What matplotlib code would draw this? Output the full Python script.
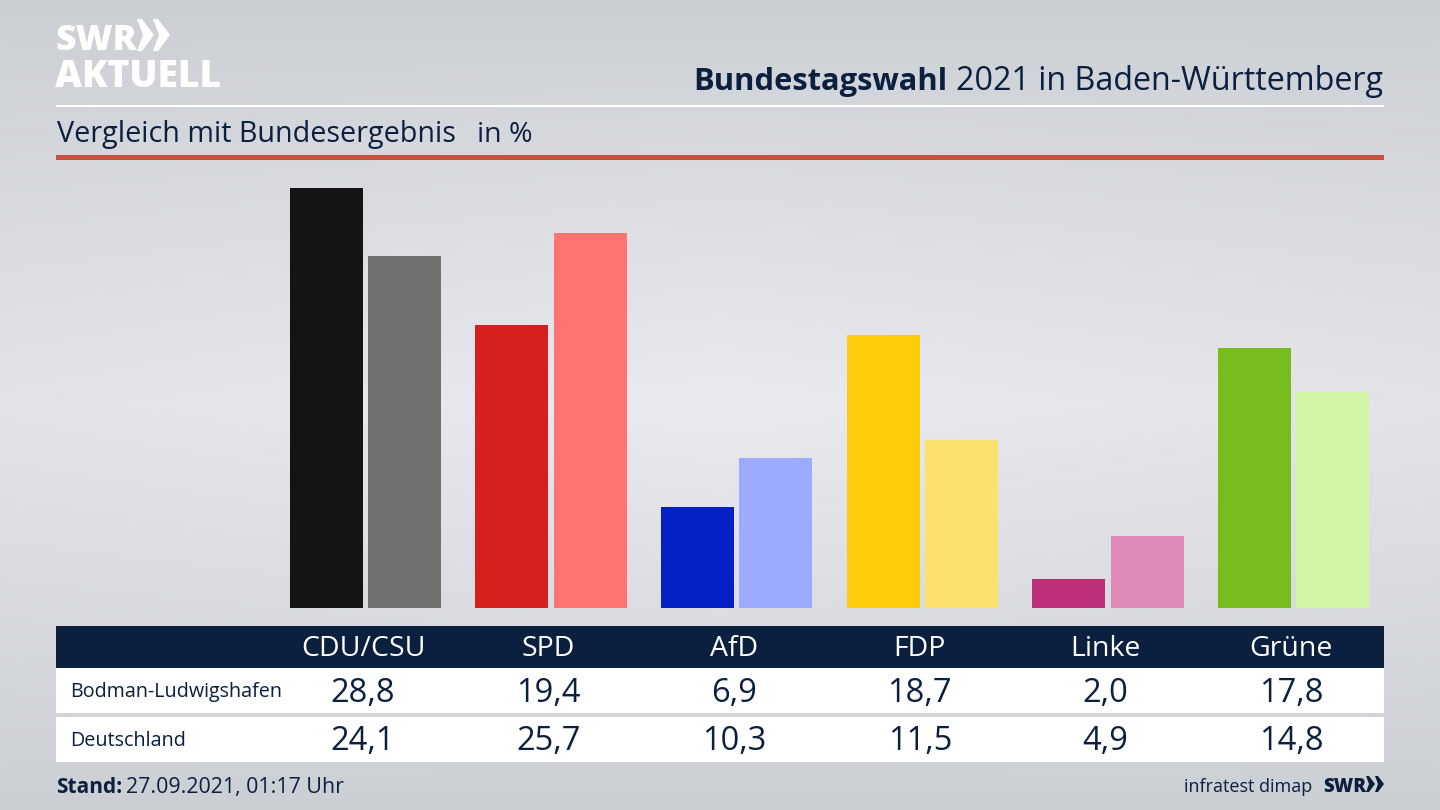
import numpy as np
import matplotlib.pyplot as plt
from matplotlib.patches import Polygon, Rectangle

plt.rcParams['font.family'] = ['Open Sans', 'DejaVu Sans']

# Daten
parteien = ['CDU/CSU', 'SPD', 'AfD', 'FDP', 'Linke', 'Grüne']
bodman = [28.8, 19.4, 6.9, 18.7, 2.0, 17.8]
deutschland = [24.1, 25.7, 10.3, 11.5, 4.9, 14.8]
farben_bodman = ['#141414', '#d71f1f', '#0220c4', '#ffcc0a', '#bd3078', '#76bc1c']
farben_deutschland = ['#72716f', '#ff7370', '#9dabff', '#fee06f', '#de88b6', '#d3f5a6']
zeilen = ['Bodman-Ludwigshafen', 'Deutschland']

NAVY = '#0b1f3f'
W, H = 1440, 810

fig = plt.figure(figsize=(14.4, 8.1), dpi=100)

# Hintergrund und Beschriftung in Pixelkoordinaten
bg = fig.add_axes([0, 0, 1, 1])
bg.set_xlim(0, W)
bg.set_ylim(H, 0)
bg.axis('off')

yy = np.linspace(0, 1, 200)[:, None]
xx = np.linspace(0, 1, 300)[None, :]
verlauf = 1 - np.abs(yy - 0.5) * 2
seiten = 1 - np.abs(xx - 0.5) * 2
hell = verlauf ** 0.9 * (0.75 + 0.25 * seiten)
rgb = np.zeros((200, 300, 3))
for k, (a, b) in enumerate([(203, 234), (206, 235), (211, 240)]):
    rgb[:, :, k] = (a + (b - a) * hell) / 255
bg.imshow(rgb, extent=(0, W, H, 0), aspect='auto', zorder=0)

# Linien oben
bg.add_patch(Rectangle((56, 104.5), 1328, 2.8, color='white', lw=0, zorder=1))
bg.add_patch(Rectangle((56, 155), 1328, 5.2, color='#c9503e', lw=0, zorder=1))

# Titel
t2 = bg.text(1383, 90, '2021 in Baden-Württemberg', fontsize=23.25, color=NAVY, ha='right', va='baseline')
fig.canvas.draw()
ext = t2.get_window_extent()
bg.text(ext.x0 - 9, 90, 'Bundestagswahl', fontsize=22.2, fontweight='bold', color=NAVY, ha='right', va='baseline')
bg.text(57, 142, 'Vergleich mit Bundesergebnis', fontsize=20.7, color=NAVY, va='baseline')
bg.text(477, 142, 'in %', fontsize=20.5, color=NAVY, va='baseline')

# Logo
bg.text(55, 50, 'SWR', fontsize=25.7, fontweight=800, color='white', va='baseline')
bg.text(55, 87, 'AKTUELL', fontsize=26.7, fontweight=800, color='white', va='baseline')
for x0 in (137, 153):
    bg.add_patch(Polygon([(x0, 19), (x0 + 5, 19), (x0 + 17, 35), (x0 + 5, 51), (x0, 51), (x0 + 6, 35)],
                         color='white', lw=0, zorder=2))

# Tabelle
bg.add_patch(Rectangle((56, 625.5), 1328, 42.5, color=NAVY, lw=0, zorder=1))
bg.add_patch(Rectangle((56, 668), 1328, 45, color='white', lw=0, zorder=1))
bg.add_patch(Rectangle((56, 717), 1328, 45, color='white', lw=0, zorder=1))

# Balken
x_links, x_rechts = 56, 1384
step = 185.6
mitte = 365.5
ax = fig.add_axes([x_links / W, 1 - 608 / H, (x_rechts - x_links) / W, 438 / H])
ax.set_xlim((x_links - mitte) / step, (x_rechts - mitte) / step)
ax.set_ylim(0, 30)
ax.axis('off')
ax.patch.set_alpha(0)

breite = 73 / step
versatz = 39.25 / step
pos = np.arange(len(parteien))
ax.bar(pos - versatz, bodman, breite, color=farben_bodman)
ax.bar(pos + versatz, deutschland, breite, color=farben_deutschland)

# Tabellentexte, an den Balkengruppen ausgerichtet
tr = ax.get_xaxis_transform()
def zeile_y(py):
    return (608 - py) / 438

for i, p in enumerate(parteien):
    xt = i - 2.5 / step
    ax.text(xt, zeile_y(649), p, transform=tr, fontsize=20.5, color='white', ha='center', va='center', clip_on=False)
    ax.text(xt, zeile_y(693), f'{bodman[i]:.1f}'.replace('.', ','), transform=tr, fontsize=23.5, color=NAVY,
            ha='center', va='center', clip_on=False)
    ax.text(xt, zeile_y(742), f'{deutschland[i]:.1f}'.replace('.', ','), transform=tr, fontsize=23.5, color=NAVY,
            ha='center', va='center', clip_on=False)

bg.text(70, 692, zeilen[0], fontsize=14.25, color=NAVY, va='center')
bg.text(70, 741, zeilen[1], fontsize=14.25, color=NAVY, va='center')

# Fusszeile
bg.text(56, 793, 'Stand:', fontsize=15, fontweight='bold', color=NAVY, va='baseline')
bg.text(126, 793, '27.09.2021, 01:17 Uhr', fontsize=15.4, color=NAVY, va='baseline')
bg.text(1312, 792, 'infratest dimap', fontsize=13, color=NAVY, ha='right', va='baseline')
bg.text(1323, 792, 'SWR', fontsize=13.5, fontweight=800, color=NAVY, va='baseline')
for x0 in (1366, 1375):
    bg.add_patch(Polygon([(x0, 776), (x0 + 3, 776), (x0 + 9, 784), (x0 + 3, 792), (x0, 792), (x0 + 3, 784)],
                         color=NAVY, lw=0, zorder=2))

fig.savefig('out.png', dpi=100)
